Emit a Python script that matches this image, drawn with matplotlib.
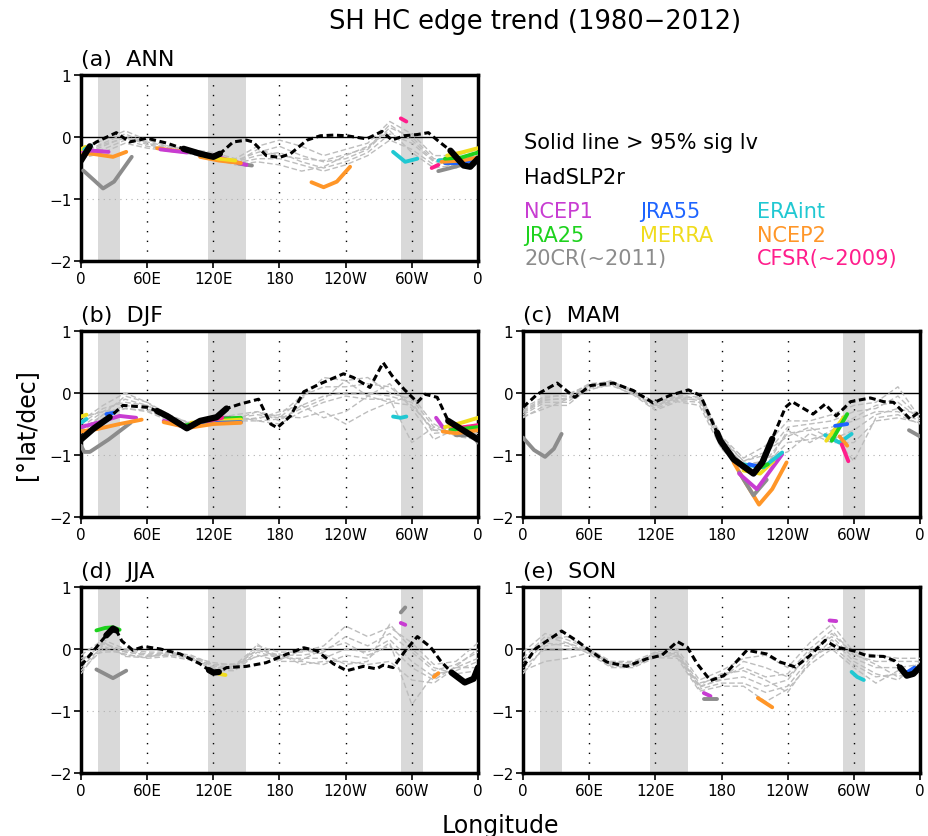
import numpy as np
import matplotlib
matplotlib.use('Agg')
import matplotlib.pyplot as plt

plt.rcParams['font.family'] = 'DejaVu Sans'

W, H = 929, 837

# colours of the reanalyses
colors = {'NCEP1': '#c83cd2', 'JRA55': '#1e64ff', 'ERAint': '#20c8d2',
          'JRA25': '#1ed21e', 'MERRA': '#f0dc1e', 'NCEP2': '#ff9628',
          '20CR': '#8c8c8c', 'CFSR': '#ff1e8c'}

xticks = [0, 60, 120, 180, 240, 300, 360]
xticklabels = ['0', '60E', '120E', '180', '120W', '60W', '0']
bands = [(15, 35), (115, 150), (290, 310)]

# gray dashed reanalysis curves (every 20 deg)
gray_lon = np.arange(0, 361, 20)
gray_a = [
    [-0.20, -0.05, 0.10, -0.05, -0.15, -0.20, -0.25, -0.35, -0.15, -0.05, -0.15, -0.30, -0.20, -0.10, 0.25, 0.05, -0.30, -0.30, -0.20],
    [-0.25, -0.10, 0.05, -0.10, -0.18, -0.22, -0.30, -0.38, -0.25, -0.15, -0.30, -0.40, -0.35, -0.20, 0.15, 0.00, -0.35, -0.35, -0.25],
    [-0.30, -0.15, 0.00, -0.12, -0.20, -0.25, -0.32, -0.40, -0.30, -0.25, -0.40, -0.50, -0.40, -0.25, 0.05, -0.10, -0.40, -0.40, -0.30],
    [-0.22, -0.20, -0.05, -0.15, -0.20, -0.28, -0.35, -0.42, -0.35, -0.35, -0.45, -0.55, -0.45, -0.30, -0.05, -0.20, -0.45, -0.40, -0.28],
    [-0.35, -0.25, -0.10, -0.18, -0.22, -0.25, -0.35, -0.45, -0.40, -0.45, -0.55, -0.48, -0.30, -0.15, 0.10, -0.25, -0.50, -0.45, -0.35],
    [-0.28, -0.12, -0.02, -0.08, -0.16, -0.24, -0.28, -0.42, -0.20, -0.30, -0.35, -0.38, -0.28, -0.18, 0.20, -0.05, -0.38, -0.50, -0.38],
]
gray_b = [
    [-0.45, -0.20, 0.00, -0.15, -0.35, -0.50, -0.45, -0.40, -0.35, -0.40, -0.10, 0.25, 0.20, 0.25, 0.00, -0.10, -0.55, -0.55, -0.50],
    [-0.55, -0.30, -0.10, -0.20, -0.40, -0.50, -0.45, -0.45, -0.40, -0.35, -0.05, 0.10, 0.10, 0.15, 0.10, -0.20, -0.60, -0.60, -0.55],
    [-0.60, -0.35, -0.20, -0.25, -0.42, -0.55, -0.50, -0.42, -0.30, -0.45, -0.20, -0.05, 0.00, 0.00, -0.05, -0.15, -0.65, -0.62, -0.60],
    [-0.70, -0.40, -0.25, -0.30, -0.45, -0.55, -0.40, -0.45, -0.45, -0.50, -0.30, -0.15, -0.05, -0.10, -0.10, -0.80, -0.55, -0.70, -0.75],
    [-0.50, -0.25, -0.15, -0.20, -0.38, -0.48, -0.42, -0.35, -0.30, -0.38, -0.40, -0.30, -0.50, -0.30, -0.15, -0.20, -0.60, -0.65, -0.65],
    [-0.40, -0.30, -0.25, -0.28, -0.43, -0.52, -0.48, -0.40, -0.42, -0.30, -0.20, -0.40, -0.30, -0.05, 0.15, -0.25, -0.75, -0.58, -0.80],
    [-0.65, -0.35, -0.05, -0.15, -0.40, -0.58, -0.42, -0.38, -0.45, -0.42, -0.25, -0.10, 0.20, -0.05, -0.15, -0.05, -0.50, -0.68, -0.70],
]
gray_c = [
    [-0.25, -0.05, -0.05, 0.15, 0.18, 0.05, -0.15, -0.05, 0.00, -0.70, -1.05, -0.85, -0.45, -0.45, -0.35, -0.20, -0.15, 0.10, -0.40],
    [-0.30, -0.10, -0.10, 0.12, 0.15, 0.02, -0.20, -0.08, -0.05, -0.75, -1.10, -1.00, -0.55, -0.50, -0.45, -0.30, -0.25, -0.05, -0.40],
    [-0.35, -0.15, -0.15, 0.10, 0.20, 0.00, -0.22, -0.10, -0.10, -0.80, -1.15, -1.10, -0.65, -0.60, -0.55, -0.45, -0.30, -0.30, -0.45],
    [-0.40, -0.20, -0.20, 0.08, 0.12, -0.02, -0.25, -0.12, -0.15, -0.85, -1.20, -1.15, -0.80, -0.75, -0.65, -1.10, -0.40, -0.35, -0.50],
    [-0.28, -0.08, -0.02, 0.12, 0.16, 0.03, -0.18, -0.06, -0.08, -0.72, -1.10, -0.95, -0.70, -0.55, -0.75, -0.60, -0.35, -0.25, -0.35],
    [-0.38, -0.25, -0.10, 0.05, 0.14, -0.03, -0.28, -0.14, -0.20, -0.90, -1.25, -1.05, -0.95, -0.65, -0.80, -0.80, -0.45, -0.40, -0.48],
    [-0.32, -0.12, -0.08, 0.13, 0.19, 0.01, -0.20, -0.08, -0.12, -0.78, -1.15, -1.20, -0.60, -0.80, -0.60, -0.40, -0.20, -0.15, -0.42],
]
gray_d = [
    [-0.10, 0.15, 0.00, -0.05, -0.05, -0.10, -0.25, -0.25, 0.05, -0.05, -0.05, 0.05, 0.37, 0.20, 0.35, 0.10, -0.25, -0.20, 0.10],
    [-0.20, 0.10, -0.05, -0.10, -0.08, -0.12, -0.28, -0.28, 0.00, -0.10, -0.10, -0.05, 0.20, 0.05, 0.25, -0.05, -0.35, -0.25, -0.05],
    [-0.30, 0.05, -0.10, -0.12, -0.10, -0.15, -0.30, -0.30, -0.05, -0.15, -0.15, -0.15, 0.00, -0.05, 0.15, -0.20, -0.45, -0.30, -0.15],
    [-0.35, 0.00, -0.08, -0.15, -0.12, -0.18, -0.32, -0.32, -0.10, -0.20, -0.20, -0.25, -0.10, -0.15, 0.10, -0.90, -0.40, -0.35, -0.20],
    [-0.40, 0.08, -0.02, -0.08, -0.06, -0.14, -0.26, -0.24, -0.12, -0.08, -0.25, -0.20, -0.20, -0.25, -0.20, -0.50, -0.55, -0.30, -0.30],
    [-0.25, 0.12, -0.12, -0.14, -0.04, -0.16, -0.35, -0.35, 0.08, -0.18, -0.02, -0.08, -0.25, -0.20, 0.40, 0.00, -0.30, -0.40, -0.35],
    [-0.15, -0.05, -0.04, -0.10, -0.10, -0.13, -0.22, -0.26, -0.02, -0.12, -0.18, 0.00, 0.10, -0.10, 0.05, -0.30, -0.50, -0.28, 0.00],
]
gray_e = [
    [-0.05, 0.25, 0.15, 0.00, -0.20, -0.20, -0.05, 0.00, -0.50, -0.35, -0.15, -0.10, -0.30, 0.10, 0.40, -0.05, -0.10, -0.15, -0.15],
    [-0.15, 0.20, 0.10, -0.02, -0.22, -0.22, -0.08, -0.05, -0.55, -0.45, -0.30, -0.45, -0.40, 0.00, 0.30, -0.10, -0.20, -0.20, -0.20],
    [-0.25, 0.10, 0.05, -0.04, -0.25, -0.25, -0.10, -0.10, -0.60, -0.50, -0.45, -0.60, -0.50, -0.05, 0.20, -0.15, -0.30, -0.30, -0.25],
    [-0.35, -0.20, -0.15, -0.06, -0.28, -0.28, -0.12, -0.12, -0.65, -0.55, -0.55, -0.70, -0.60, -0.15, 0.05, -0.25, -0.45, -0.40, -0.30],
    [-0.40, 0.05, 0.10, -0.08, -0.30, -0.30, -0.14, -0.15, -0.68, -0.60, -0.60, -0.85, -0.65, -0.25, 0.00, -0.30, -0.55, -0.35, -0.35],
    [-0.20, 0.15, 0.20, 0.00, -0.24, -0.26, -0.06, -0.08, -0.58, -0.40, -0.35, -0.50, -0.70, -0.20, 0.15, -0.20, -0.40, -0.50, -0.20],
    [-0.30, 0.00, 0.00, -0.03, -0.26, -0.24, -0.09, -0.07, -0.62, -0.48, -0.20, -0.30, -0.45, -0.10, 0.25, -0.08, -0.25, -0.45, -0.28],
]

# HadSLP2r trend (black), with significant ranges
had_lon_a = [0, 8, 14, 32, 44, 60, 78, 93, 108, 120, 126, 138, 150, 156, 168, 180, 190, 205, 217, 229, 241, 259, 273, 282, 293, 305, 315, 323, 335, 347, 353, 360]
had_a = [-0.38, -0.15, -0.08, 0.07, -0.08, -0.02, -0.10, -0.19, -0.27, -0.32, -0.27, -0.08, -0.05, -0.08, -0.30, -0.33, -0.27, -0.05, 0.02, 0.03, 0.02, -0.03, 0.09, -0.05, 0.02, 0.04, 0.07, -0.05, -0.22, -0.46, -0.48, -0.35]
sig_a = [(0, 8), (93, 126), (335, 360)]

had_lon_b = [0, 11, 26, 38, 60, 69, 78, 96, 108, 123, 132, 144, 161, 172, 178, 190, 202, 217, 238, 247, 262, 274, 282, 293, 305, 312, 323, 333, 350, 360]
had_b = [-0.75, -0.58, -0.39, -0.20, -0.23, -0.29, -0.37, -0.57, -0.45, -0.39, -0.25, -0.18, -0.10, -0.50, -0.56, -0.37, 0.02, 0.15, 0.31, 0.25, 0.09, 0.49, 0.28, 0.06, -0.15, -0.02, -0.07, -0.45, -0.64, -0.75]
sig_b = [(0, 26), (69, 132), (333, 360)]

had_lon_c = [0, 13, 31, 47, 61, 82, 100, 118, 133, 150, 161, 176, 179, 191, 209, 217, 226, 238, 244, 263, 274, 284, 297, 315, 327, 336, 351, 360]
had_c = [-0.23, -0.02, 0.16, -0.07, 0.12, 0.16, 0.04, -0.16, -0.04, 0.05, -0.04, -0.64, -0.77, -1.07, -1.30, -1.12, -0.74, -0.23, -0.14, -0.34, -0.18, -0.37, -0.14, -0.08, -0.14, -0.15, -0.42, -0.29]
sig_c = [(176, 226)]

had_lon_d = [0, 9, 20, 23, 29, 32, 37, 47, 57, 72, 90, 108, 116, 120, 125, 132, 150, 168, 187, 202, 214, 229, 241, 256, 268, 274, 283, 294, 305, 317, 326, 336, 348, 356, 360]
had_d = [-0.27, -0.08, 0.16, 0.22, 0.33, 0.30, 0.13, -0.02, 0.04, 0.00, -0.08, -0.24, -0.34, -0.38, -0.37, -0.30, -0.28, -0.22, -0.08, 0.02, -0.03, -0.24, -0.35, -0.28, -0.32, -0.26, -0.30, -0.03, 0.20, 0.03, -0.19, -0.38, -0.54, -0.48, -0.30]
sig_d = [(23, 32), (116, 125), (336, 360)]

had_lon_e = [0, 11, 35, 49, 61, 76, 94, 112, 126, 140, 149, 158, 170, 182, 203, 221, 233, 247, 260, 274, 284, 300, 312, 327, 337, 342, 348, 354, 360]
had_e = [-0.29, 0.00, 0.29, 0.13, -0.03, -0.21, -0.28, -0.16, -0.10, 0.12, 0.03, -0.24, -0.51, -0.43, -0.02, -0.08, -0.21, -0.29, -0.11, 0.14, 0.03, -0.03, -0.11, -0.12, -0.19, -0.30, -0.43, -0.40, -0.29]
sig_e = [(342, 360)]

# significant segments of each reanalysis: (name, lons, values)
seg_a = [
    ('20CR', [2, 12, 20, 30, 46], [-0.54, -0.70, -0.83, -0.72, -0.32]),
    ('NCEP2', [0, 10, 29, 41], [-0.27, -0.27, -0.32, -0.24]),
    ('NCEP1', [0, 10, 25], [-0.22, -0.22, -0.24]),
    ('MERRA', [0, 4], [-0.20, -0.16]),
    ('ERAint', [3, 9], [-0.20, -0.14]),
    ('NCEP2', [69, 80, 96], [-0.18, -0.21, -0.24]),
    ('NCEP1', [72, 96], [-0.20, -0.25]),
    ('20CR', [143, 155], [-0.43, -0.46]),
    ('NCEP1', [120, 135, 150], [-0.30, -0.38, -0.45]),
    ('NCEP2', [108, 125, 145], [-0.32, -0.38, -0.42]),
    ('MERRA', [110, 125, 140], [-0.30, -0.35, -0.38]),
    ('NCEP2', [209, 220, 232, 244], [-0.73, -0.81, -0.72, -0.48]),
    ('ERAint', [283, 294, 305], [-0.24, -0.40, -0.35]),
    ('CFSR', [290, 295], [0.30, 0.25]),
    ('CFSR', [318, 324], [-0.50, -0.45]),
    ('20CR', [324, 335, 345], [-0.55, -0.50, -0.45]),
    ('ERAint', [324, 332], [-0.38, -0.37]),
    ('JRA55', [330, 345, 360], [-0.42, -0.42, -0.35]),
    ('NCEP2', [327, 345, 360], [-0.40, -0.38, -0.33]),
    ('JRA25', [330, 345, 360], [-0.35, -0.33, -0.25]),
    ('MERRA', [332, 345, 360], [-0.30, -0.25, -0.18]),
]
seg_b = [
    ('20CR', [0, 3, 8, 25, 45], [-0.85, -0.95, -0.95, -0.75, -0.48]),
    ('MERRA', [0, 5], [-0.38, -0.35]),
    ('ERAint', [0, 5], [-0.48, -0.42]),
    ('NCEP1', [0, 15, 35, 50], [-0.55, -0.48, -0.37, -0.40]),
    ('NCEP2', [0, 15, 35, 55], [-0.62, -0.58, -0.50, -0.43]),
    ('JRA55', [23, 30], [-0.34, -0.32]),
    ('NCEP1', [75, 95, 120, 135], [-0.45, -0.55, -0.40, -0.40]),
    ('JRA25', [95, 120, 145], [-0.52, -0.42, -0.40]),
    ('MERRA', [100, 125, 145], [-0.48, -0.45, -0.43]),
    ('JRA55', [100, 125, 145], [-0.53, -0.48, -0.47]),
    ('CFSR', [115, 128], [-0.45, -0.40]),
    ('NCEP2', [75, 98, 120, 145], [-0.47, -0.56, -0.50, -0.48]),
    ('ERAint', [283, 290, 295], [-0.38, -0.40, -0.38]),
    ('NCEP1', [322, 328], [-0.40, -0.55]),
    ('20CR', [340, 355, 360], [-0.68, -0.68, -0.80]),
    ('JRA55', [335, 360], [-0.55, -0.60]),
    ('CFSR', [335, 360], [-0.58, -0.52]),
    ('JRA25', [335, 360], [-0.60, -0.55]),
    ('NCEP2', [328, 340, 360], [-0.62, -0.65, -0.60]),
    ('MERRA', [330, 345, 360], [-0.55, -0.48, -0.40]),
]
seg_c = [
    ('20CR', [0, 10, 20, 28, 35], [-0.72, -0.92, -1.03, -0.90, -0.66]),
    ('NCEP2', [191, 202, 214, 226, 239], [-1.12, -1.45, -1.80, -1.55, -1.12]),
    ('20CR', [196, 209, 221], [-1.28, -1.65, -1.40]),
    ('NCEP1', [196, 212, 235], [-1.30, -1.55, -0.99]),
    ('MERRA', [200, 215, 227], [-1.25, -1.30, -1.10]),
    ('ERAint', [200, 218, 235], [-1.15, -1.20, -0.96]),
    ('JRA55', [205, 212], [-1.15, -1.18]),
    ('JRA25', [212, 222], [-1.22, -1.15]),
    ('ERAint', [274, 287, 298], [-0.68, -0.80, -0.66]),
    ('MERRA', [275, 291], [-0.77, -0.39]),
    ('JRA25', [280, 294], [-0.77, -0.34]),
    ('JRA55', [283, 294], [-0.53, -0.50]),
    ('NCEP2', [287, 294], [-0.70, -0.85]),
    ('CFSR', [289, 295], [-0.83, -1.10]),
    ('20CR', [350, 360], [-0.60, -0.70]),
]
seg_d = [
    ('JRA25', [14, 22, 29, 35], [0.30, 0.34, 0.35, 0.31]),
    ('20CR', [14, 29, 41], [-0.33, -0.47, -0.35]),
    ('MERRA', [125, 131], [-0.40, -0.42]),
    ('20CR', [290, 294], [0.59, 0.67]),
    ('NCEP1', [290, 294], [0.42, 0.39]),
    ('NCEP2', [320, 324], [-0.45, -0.39]),
]
seg_e = [
    ('NCEP1', [164, 170], [-0.71, -0.76]),
    ('20CR', [164, 176], [-0.80, -0.80]),
    ('NCEP2', [213, 226], [-0.79, -0.94]),
    ('NCEP1', [278, 284], [0.46, 0.45]),
    ('ERAint', [298, 303, 309], [-0.37, -0.45, -0.50]),
    ('JRA55', [348, 355], [-0.38, -0.30]),
]


def px_box(x0, y0, x1, y1):
    return [x0 / W, 1 - y1 / H, (x1 - x0) / W, (y1 - y0) / H]


def draw_panel(ax, label, gray, had_lon, had, sig, segs):
    for lo, hi in bands:
        ax.axvspan(lo, hi, color='#d9d9d9', lw=0, zorder=0)
    for x in xticks[1:-1]:
        ax.axvline(x, color='k', lw=1.0, ls=(0, (1, 6)), zorder=1)
    ax.axhline(-1, color='#b0b0b0', lw=0.8, ls=(0, (1, 4)), zorder=1)
    ax.axhline(0, color='k', lw=1.0, zorder=2)
    for g in gray:
        ax.plot(gray_lon, g, color='#bdbdbd', lw=1.0, ls=(0, (4, 2)), zorder=3)
    for name, lo, va in segs:
        ax.plot(lo, va, color=colors[name], lw=2.8, solid_capstyle='round', zorder=4)
    lon = np.array(had_lon)
    val = np.array(had)
    ax.plot(lon, val, color='k', lw=2.2, ls=(0, (2.2, 1.2)), zorder=5)
    for lo, hi in sig:
        m = (lon >= lo) & (lon <= hi)
        ax.plot(lon[m], val[m], color='k', lw=4.5, solid_capstyle='round', zorder=6)
    ax.set_xlim(0, 360)
    ax.set_ylim(-2, 1)
    ax.set_xticks(xticks)
    ax.set_xticklabels(xticklabels)
    ax.set_yticks([-2, -1, 0, 1])
    ax.set_yticklabels(['\u22122', '\u22121', '0', '1'])
    ax.tick_params(direction='out', length=5, width=1.2, labelsize=11, pad=2)
    for s in ax.spines.values():
        s.set_linewidth(2.5)
    ax.text(0.0, 1.03, label, transform=ax.transAxes, fontsize=16, va='bottom', ha='left')


fig = plt.figure(figsize=(W / 100, H / 100), dpi=100)

ax_a = fig.add_axes(px_box(81, 76, 478, 262))
ax_b = fig.add_axes(px_box(81, 332, 478, 518))
ax_c = fig.add_axes(px_box(523, 332, 920, 518))
ax_d = fig.add_axes(px_box(81, 588, 478, 774))
ax_e = fig.add_axes(px_box(523, 588, 920, 774))

draw_panel(ax_a, '(a)  ANN', gray_a, had_lon_a, had_a, sig_a, seg_a)
draw_panel(ax_b, '(b)  DJF', gray_b, had_lon_b, had_b, sig_b, seg_b)
draw_panel(ax_c, '(c)  MAM', gray_c, had_lon_c, had_c, sig_c, seg_c)
draw_panel(ax_d, '(d)  JJA', gray_d, had_lon_d, had_d, sig_d, seg_d)
draw_panel(ax_e, '(e)  SON', gray_e, had_lon_e, had_e, sig_e, seg_e)

fig.text(535 / W, 1 - 22 / H, 'SH HC edge trend (1980\u22122012)', fontsize=18.5, ha='center', va='center')
fig.text(26 / W, 1 - 425 / H, '[\u00b0lat/dec]', fontsize=17, rotation=90, ha='center', va='center')
fig.text(500 / W, 1 - 826 / H, 'Longitude', fontsize=17, ha='center', va='center')

fig.text(524 / W, 1 - 143 / H, 'Solid line > 95% sig lv', fontsize=15, va='center')
fig.text(524 / W, 1 - 178 / H, 'HadSLP2r', fontsize=15, va='center')
legend_rows = [['NCEP1', 'JRA55', 'ERAint'], ['JRA25', 'MERRA', 'NCEP2'], ['20CR', None, 'CFSR']]
legend_names = {'20CR': '20CR(~2011)', 'CFSR': 'CFSR(~2009)'}
legend_y = [212, 236, 259]
legend_x = [524, 640, 757]
for row, yy in zip(legend_rows, legend_y):
    for name, xx in zip(row, legend_x):
        if name is None:
            continue
        fig.text(xx / W, 1 - yy / H, legend_names.get(name, name), color=colors[name],
                 fontsize=15, va='center')

fig.savefig('out.png', dpi=100)
